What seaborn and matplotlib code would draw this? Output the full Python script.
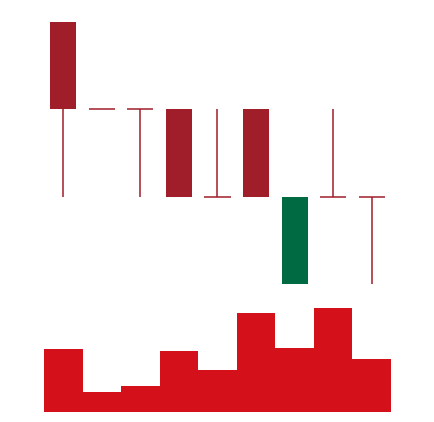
import matplotlib
matplotlib.use("Agg")
import matplotlib.pyplot as plt
import seaborn as sns
import pandas as pd
import numpy as np

# Data
days = ["1", "2", "3", "4", "5", "6", "7", "8", "9"]
open_ = [4, 3, 3, 3, 2, 3, 1, 2, 2]
close = [3, 3, 3, 2, 2, 2, 2, 2, 2]
high = [4, 3, 3, 3, 3, 3, 2, 3, 2]
low = [2, 3, 2, 2, 2, 2, 1, 2, 1]
volume = [63, 20, 26, 61, 42, 99, 64, 104, 53]

DOWN = "#a01e2a"
UP = "#006a43"
VOL = "#d4101a"

sns.set_theme(style="white")
W, H = 434, 422
fig = plt.figure(figsize=(W / 100, H / 100), dpi=100)

left = 44 / W
width = 347 / W
ax = fig.add_axes([left, (H - 284) / H, width, 262 / H])
axv = fig.add_axes([left, (H - 411.7) / H, width, 104 / H])

x = np.arange(len(days))
bw = 0.68
for i in x:
    o, c, h, l = open_[i], close[i], high[i], low[i]
    col = UP if c > o else DOWN
    if h != l:
        ax.vlines(i, l, h, color=col, lw=1.1, clip_on=False, zorder=1)
    if o == c:
        ax.hlines(o, i - bw / 2, i + bw / 2, color=col, lw=1.1, clip_on=False, zorder=2)
    else:
        ax.bar(i, abs(c - o), bottom=min(o, c), width=bw, color=col,
               linewidth=0, clip_on=False, zorder=2)
ax.set_xlim(-0.5, len(days) - 0.5)
ax.set_ylim(1, 4)
ax.axis("off")

df = pd.DataFrame({"day": days, "volume": volume})
sns.barplot(data=df, x="day", y="volume", ax=axv, color=VOL, saturation=1,
            width=1.0, linewidth=0)
axv.set_xlim(-0.5, len(days) - 0.5)
axv.set_ylim(0, max(volume))
axv.axis("off")

fig.savefig("out.png", dpi=100)
